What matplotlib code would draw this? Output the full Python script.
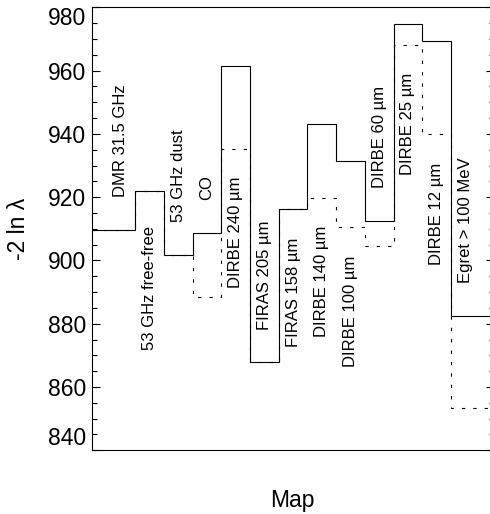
import numpy as np
import matplotlib
matplotlib.use("Agg")
import matplotlib.pyplot as plt
from matplotlib.ticker import MultipleLocator, AutoMinorLocator

plt.rcParams['font.family'] = ['Liberation Sans', 'DejaVu Sans']
plt.rcParams['lines.scale_dashes'] = False

# Maps included in the fit, in order along the x axis
maps = ["DMR 31.5 GHz", "53 GHz free-free", "53 GHz dust", "CO",
        "DIRBE 240 µm", "FIRAS 205 µm", "FIRAS 158 µm", "DIRBE 140 µm",
        "DIRBE 100 µm", "DIRBE 60 µm", "DIRBE 25 µm", "DIRBE 12 µm",
        "Egret > 100 MeV"]

# -2 ln(likelihood) for each map (solid and dotted curves)
lnl_solid = [909.7, 921.8, 901.8, 908.6, 961.3, 867.8, 916.4, 943.0,
             931.4, 912.5, 974.7, 969.4, 882.4]
lnl_dotted = [909.7, 921.8, 901.8, 888.5, 935.2, 867.8, 916.4, 919.8,
              910.7, 904.7, 968.0, 939.9, 853.3]

# vertical start of each rotated map name (data units)
label_y = [920.0, 871.7, 912.1, 919.1, 891.2, 877.9, 872.7, 875.9,
           866.4, 922.8, 927.0, 898.5, 892.9]

yticks = [840, 860, 880, 900, 920, 940, 960, 980]

n = len(maps)
xc = np.arange(1, n + 1)
edges = np.concatenate([[0], xc[:-1] + 0.5, [n + 1]])

fig = plt.figure(figsize=(4.9, 5.14), dpi=100)
ax = fig.add_axes([92.3 / 490, 1 - 450.3 / 514, (494 - 92.3) / 490, (450.3 - 7.3) / 514])

ax.stairs(lnl_solid, edges, baseline=None, color='black', lw=0.8)
ax.stairs(lnl_dotted, edges, baseline=None, color='black', lw=0.8,
          linestyle=(0, (2.4, 5.8)))

for x, name, y in zip(xc, maps, label_y):
    ax.text(x, y, name, rotation=90, ha='center', va='bottom', fontsize=12)

ax.set_xlim(0, n + 1)
ax.set_ylim(yticks[0], yticks[-1])
ax.set_yticks(yticks)
ax.yaxis.set_minor_locator(AutoMinorLocator(4))
ax.set_xticks([])
ax.tick_params(axis='y', which='both', direction='in', left=True, right=True,
               labelsize=16.5, pad=4.3, width=0.8)
ax.tick_params(axis='y', which='major', length=6)
ax.tick_params(axis='y', which='minor', length=3.6)
for sp in ax.spines.values():
    sp.set_linewidth(0.8)

labels = ax.get_yticklabels()
labels[0].set_va('bottom')
labels[-1].set_va('top')

ax.set_ylabel("-2 ln λ", fontsize=16.5, va='center')
ax.yaxis.set_label_coords(-0.184, 0.5)
ax.set_xlabel("Map", fontsize=16.5, va='baseline')
ax.xaxis.set_label_coords(0.497, -0.127)

fig.savefig("out.png", dpi=100)
